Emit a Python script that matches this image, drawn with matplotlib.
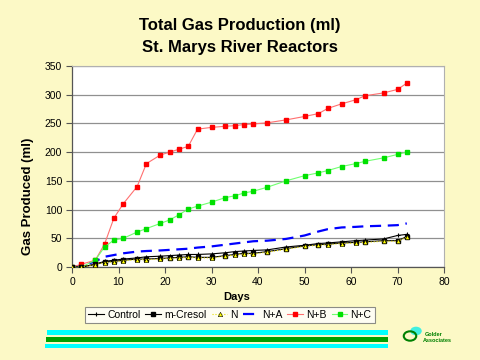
import matplotlib
matplotlib.use("Agg")
import matplotlib.pyplot as plt
from matplotlib.patches import Rectangle, Circle

plt.rcParams['font.family'] = ['Liberation Sans', 'DejaVu Sans']

bg = '#FCF9C6'

# data
days = [0, 2, 5, 7, 9, 11, 14, 16, 19, 21, 23, 25, 27, 30, 33, 35, 37, 39,
        42, 46, 50, 53, 55, 58, 61, 63, 67, 70, 72]
control = [0, 0, 5, 10, 12, 14, 16, 18, 19, 20, 21, 22, 22, 23, 25, 27, 28, 29,
           30, 35, 38, 41, 42, 44, 46, 47, 49, 55, 57]
m_cresol = [0, 0, 5, 9, 10, 12, 14, 14, 15, 16, 17, 18, 17, 17, 20, 22, 24, 24,
            27, 32, 37, 39, 40, 42, 43, 44, 46, 46, 53]
n_only = [0, 0, 4, 8, 9, 11, 13, 13, 14, 15, 16, 17, 16, 16, 19, 21, 23, 23,
          26, 31, 36, 38, 39, 41, 42, 43, 45, 45, 52]
n_a = [0, 2, 10, 18, 21, 24, 27, 28, 29, 30, 31, 32, 34, 36, 39, 41, 43, 45,
       46, 49, 55, 62, 66, 69, 70, 71, 72, 73, 76]
n_b = [0, 5, 12, 40, 85, 110, 140, 180, 195, 200, 205, 210, 240, 243, 245, 246,
       248, 249, 251, 256, 262, 267, 276, 284, 291, 298, 303, 309, 320]
n_c = [0, 0, 12, 35, 47, 50, 61, 67, 76, 82, 91, 101, 106, 113, 121, 124, 129,
       132, 139, 150, 159, 164, 168, 175, 180, 184, 190, 196, 200]

fig = plt.figure(figsize=(4.8, 3.6), dpi=100, facecolor=bg)
ax = fig.add_axes([0.15, 0.258, 0.775, 0.559])
ax.set_facecolor('white')

### SERIES ###
ax.plot(days, control, color='black', lw=0.8, marker='+', ms=3, mew=0.8, label='Control', zorder=4)
ax.plot(days, m_cresol, color='black', lw=0.8, marker='s', ms=3, label='m-Cresol', zorder=4)
ax.plot(days, n_only, color='#E8E000', lw=0.8, ls=':', marker='^', ms=3.2,
        mfc='#FFFF00', mec='black', mew=0.4, label='N', zorder=5)
ax.plot(days, n_a, color='#0000FF', lw=1.6, ls=(0, (5, 3)), label='N+A', zorder=3)
ax.plot(days, n_b, color='#FF7070', lw=0.8, marker='s', ms=2.6, mfc='#FF0000', mec='#FF0000',
        label='N+B', zorder=3)
ax.plot(days, n_c, color='#70FF70', lw=0.8, marker='s', ms=2.6, mfc='#00E000', mec='#00E000',
        label='N+C', zorder=3)

### AXES ###
ax.set_xlim(0, 80)
ax.set_ylim(0, 350)
ax.set_xticks(range(0, 81, 10))
ax.set_yticks(range(0, 351, 50))
ax.tick_params(labelsize=7.5, length=4, width=0.8, color='#555555', pad=3)
ax.grid(axis='y', color='#909090', lw=0.9)
ax.set_axisbelow(True)
for s in ['top', 'right']:
    ax.spines[s].set_color('#B0B0B0')
    ax.spines[s].set_linewidth(0.8)
for s in ['left', 'bottom']:
    ax.spines[s].set_color('#555555')
    ax.spines[s].set_linewidth(0.9)

fig.text(0.5, 0.93, 'Total Gas Production (ml)', ha='center', va='center', fontsize=12, weight='bold')
fig.text(0.5, 0.867, 'St. Marys River Reactors', ha='center', va='center', fontsize=12, weight='bold')
fig.text(0.494, 0.175, 'Days', ha='center', va='center', fontsize=8, weight='bold')
fig.text(0.058, 0.455, 'Gas Produced (ml)', ha='center', va='center', rotation=90,
         fontsize=9.5, weight='bold')

### LEGEND ###
leg = fig.legend(loc='center', bbox_to_anchor=(0.479, 0.125), ncol=6, fontsize=7.5,
                 frameon=True, fancybox=False, handlelength=1.5, handletextpad=0.3,
                 columnspacing=0.5, borderpad=0.3, borderaxespad=0)
leg.get_frame().set_edgecolor('#707070')
leg.get_frame().set_linewidth(0.8)

### DECORATION ###
def px_rect(x0, y0, x1, y1, color):
    fig.add_artist(Rectangle((x0 / 480, 1 - y1 / 360), (x1 - x0) / 480, (y1 - y0) / 360,
                             transform=fig.transFigure, color=color, lw=0))

px_rect(47, 330, 388, 335, '#00FFFF')
px_rect(46, 337, 388, 341.5, '#00A000')
px_rect(45, 343.5, 388, 348, '#00FFFF')

fig.add_artist(Circle((416 / 480, 1 - 331 / 360), 0.012, transform=fig.transFigure,
                      color='#40F0E0', lw=0))
fig.add_artist(Circle((410 / 480, 1 - 336 / 360), 0.013, transform=fig.transFigure,
                      fill=False, ec='#008000', lw=1.5))
fig.text(434 / 480, 1 - 334 / 360, 'Golder', ha='center', va='center', fontsize=4,
         color='#008000', weight='bold')
fig.text(437 / 480, 1 - 340 / 360, 'Associates', ha='center', va='center', fontsize=4,
         color='#008000', weight='bold')

fig.savefig('out.png', dpi=100, facecolor=bg)
